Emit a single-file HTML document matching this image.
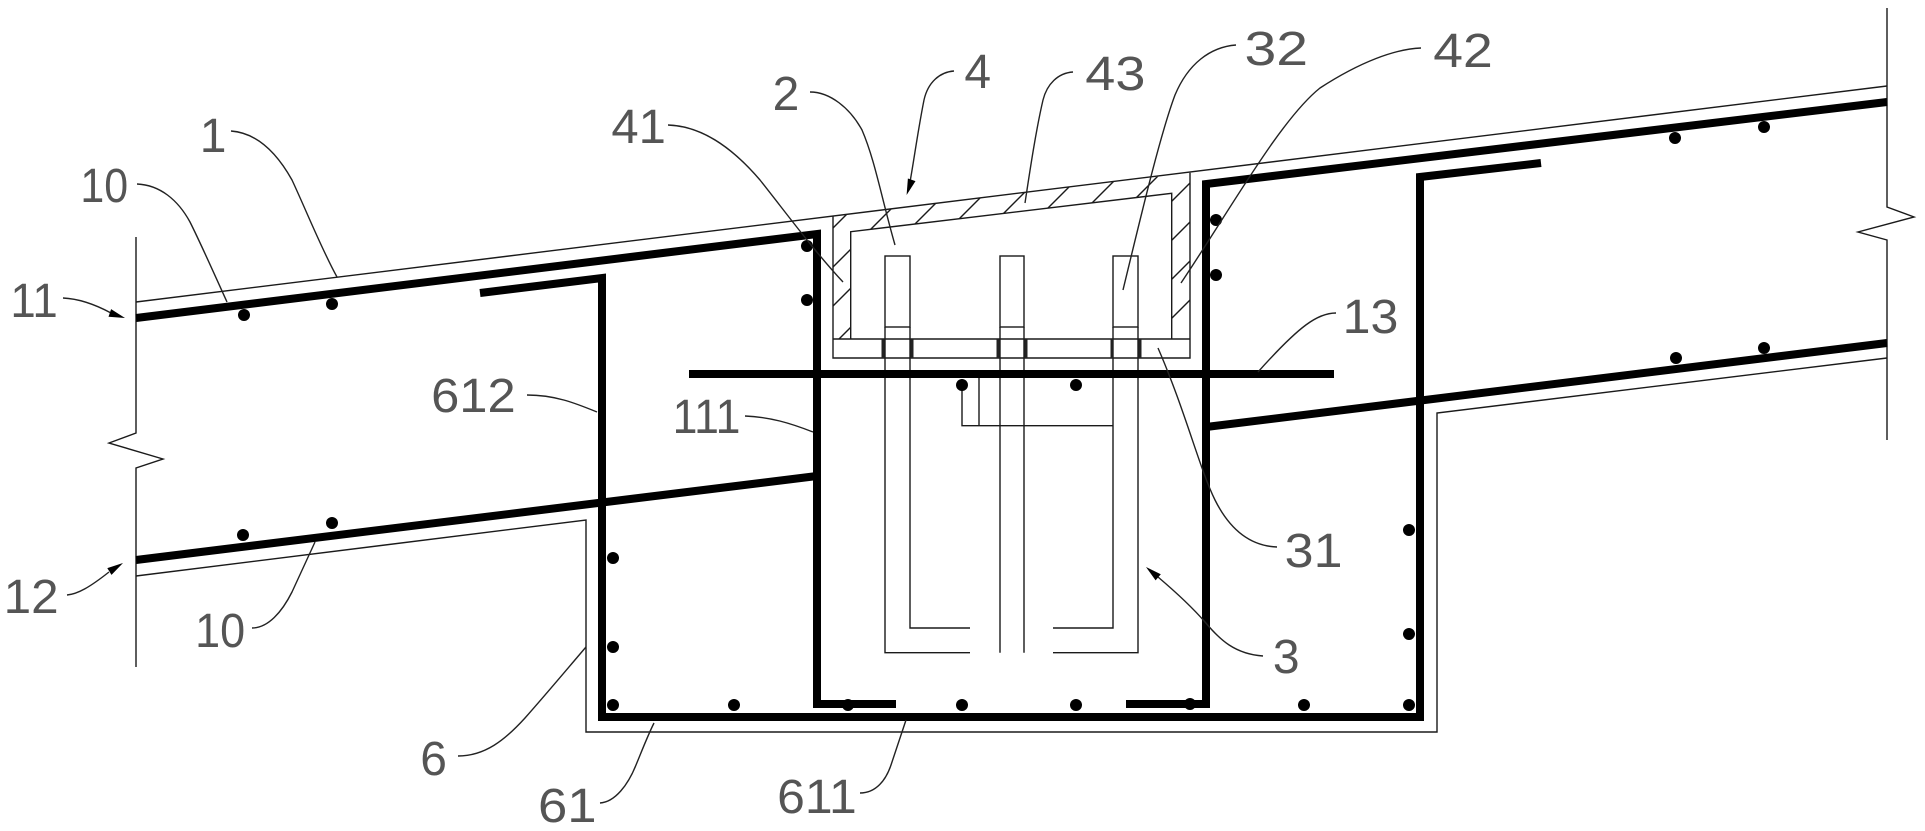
<!DOCTYPE html>
<html>
<head>
<meta charset="utf-8">
<style>
  html,body{margin:0;padding:0;background:#fff;}
  svg{display:block;}
  .t{font-family:"Liberation Sans",sans-serif;font-size:48px;fill:#555;}
  .thin{fill:none;stroke:#1a1a1a;stroke-width:1.4;}
  .lead{fill:none;stroke:#222;stroke-width:1.4;}
  .thick{fill:none;stroke:#000;stroke-width:8;stroke-linejoin:miter;stroke-linecap:butt;}
</style>
</head>
<body>
<svg width="1925" height="831" viewBox="0 0 1925 831" xmlns="http://www.w3.org/2000/svg">
  <defs>
    <pattern id="hatch" patternUnits="userSpaceOnUse" x="8" y="0" width="39" height="39">
      <line x1="0" y1="39" x2="39" y2="0" stroke="#1a1a1a" stroke-width="1.4"/>
      <line x1="-2" y1="2" x2="2" y2="-2" stroke="#1a1a1a" stroke-width="1.4"/>
      <line x1="37" y1="41" x2="41" y2="37" stroke="#1a1a1a" stroke-width="1.4"/>
    </pattern>
  </defs>

  <!-- break lines -->
  <polyline class="thin" points="136,237 136,433 109,443 163,459 136,468 136,667"/>
  <polyline class="thin" points="1887,8 1887,207 1914,217 1858,232 1887,240 1887,440"/>

  <!-- top surface line -->
  <line class="thin" x1="136" y1="302" x2="1887" y2="86"/>

  <!-- pit outline (6) -->
  <polyline class="thin" points="136,576 586,520 586,732 1437,732 1437,413 1887,358"/>

  <!-- hatched box 4 -->
  <path d="M833,216 L1190,172.7 L1190,339 L1172,339 L1172,193.3 L850.7,231.7 L850.7,339 L833,339 Z" fill="url(#hatch)" stroke="none"/>
  <polyline class="thin" points="833,216 833,358 1190,358 1190,172.7"/>
  <polyline class="thin" points="850.7,339 850.7,231.7 1171.7,193.3 1171.7,339"/>
  <line class="thin" x1="833" y1="339" x2="1190" y2="339"/>

  <!-- posts 32 -->
  <rect class="thin" x="885" y="256" width="25" height="71"/>
  <rect class="thin" x="1000" y="256" width="24" height="71"/>
  <rect class="thin" x="1113" y="256" width="25" height="71"/>

  <!-- rods 3 -->
  <polyline class="thin" points="885,327 885,652.7 970,652.7"/>
  <polyline class="thin" points="910,327 910,628 970,628"/>
  <line class="thin" x1="1000" y1="327" x2="1000" y2="652.7"/>
  <line class="thin" x1="1024" y1="327" x2="1024" y2="652.7"/>
  <polyline class="thin" points="1113,327 1113,628 1053,628"/>
  <polyline class="thin" points="1138,327 1138,652.7 1053,652.7"/>
  <!-- nut marks in plate -->
  <g fill="#222">
    <rect x="881.5" y="339" width="3" height="19"/>
    <rect x="910.5" y="339" width="3" height="19"/>
    <rect x="996.5" y="339" width="3" height="19"/>
    <rect x="1024.5" y="339" width="3" height="19"/>
    <rect x="1110.5" y="339" width="3" height="19"/>
    <rect x="1138.5" y="339" width="3" height="19"/>
  </g>
  <!-- bracket -->
  <polyline class="thin" points="962,385 962,425.7 1113,425.7"/>
  <line class="thin" x1="979" y1="377" x2="979" y2="425.7"/>

  <!-- thick rebars -->
  <polyline class="thick" stroke-width="7" points="136,318 817,234 817,704 896,704"/>
  <polyline class="thick" stroke-width="7" points="1887,102 1206,184 1206,704 1126,704"/>
  <line class="thick" stroke-width="7" x1="136" y1="560" x2="817" y2="476"/>
  <line class="thick" stroke-width="7" x1="1206" y1="427" x2="1887" y2="343"/>
  <line class="thick" stroke-width="7" x1="689" y1="374" x2="1334" y2="374"/>
  <polyline class="thick" points="480,293 602,278 602,717 1420,717 1420,177 1541,163"/>

  <!-- rebar dots -->
  <g fill="#000">
    <circle cx="244" cy="315" r="6"/>
    <circle cx="332" cy="304" r="6"/>
    <circle cx="807" cy="246" r="6"/>
    <circle cx="807" cy="300" r="6"/>
    <circle cx="1216" cy="220" r="6"/>
    <circle cx="1216" cy="275" r="6"/>
    <circle cx="1675" cy="138" r="6"/>
    <circle cx="1764" cy="127" r="6"/>
    <circle cx="1676" cy="358" r="6"/>
    <circle cx="1764" cy="348" r="6"/>
    <circle cx="243" cy="535" r="6"/>
    <circle cx="332" cy="523" r="6"/>
    <circle cx="613" cy="558" r="6"/>
    <circle cx="613" cy="647" r="6"/>
    <circle cx="613" cy="705" r="6"/>
    <circle cx="734" cy="705" r="6"/>
    <circle cx="848" cy="705" r="6"/>
    <circle cx="962" cy="705" r="6"/>
    <circle cx="1076" cy="705" r="6"/>
    <circle cx="1190" cy="704" r="6"/>
    <circle cx="1304" cy="705" r="6"/>
    <circle cx="1409" cy="705" r="6"/>
    <circle cx="1409" cy="530" r="6"/>
    <circle cx="1409" cy="634" r="6"/>
    <circle cx="962" cy="385" r="6"/>
    <circle cx="1076" cy="385" r="6"/>
  </g>

  <!-- leaders -->
  <path class="lead" d="M231,131 C258,133 278,155 292,180 C306,210 322,250 337,277"/>
  <path class="lead" d="M137,184 C160,185 178,200 190,222 C202,246 216,278 227,302"/>
  <path class="lead" d="M63,298 Q85,299 111,313"/>
  <polygon fill="#000" points="125,318 108.5,316.7 111.1,309.1"/>
  <path class="lead" d="M668,125 C700,126 730,145 760,180 C790,218 815,252 843,282"/>
  <path class="lead" d="M810,92 C830,92 850,108 862,130 C875,160 882,200 895,245"/>
  <path class="lead" d="M954,71 C940,72 928,82 924,100 C918,130 914,160 910,182"/>
  <polygon fill="#000" points="906.6,195 915.5,181.1 907.9,178.5"/>
  <path class="lead" d="M1073,72 C1058,73 1047,84 1043,100 C1036,130 1030,170 1025,203"/>
  <path class="lead" d="M1236,45 C1210,47 1188,64 1175,95 C1160,135 1140,220 1123,290"/>
  <path class="lead" d="M1421,48 C1395,49 1360,62 1320,88 C1280,120 1230,210 1181,283"/>
  <path class="lead" d="M1336,313 C1318,313 1300,325 1258,372"/>
  <path class="lead" d="M527,395 C555,395 575,403 597,412"/>
  <path class="lead" d="M745,416 C770,417 790,423 813,432"/>
  <path class="lead" d="M67,595 C78,594 90,587 109,572"/>
  <polygon fill="#000" points="123,563 111.5,574.9 107.3,568.1"/>
  <path class="lead" d="M252,628 C268,628 282,612 292,592 C302,570 310,553 315,542"/>
  <path class="lead" d="M458,756 C485,756 505,740 525,718 C548,692 568,668 586,647"/>
  <path class="lead" d="M600,803 C615,802 628,785 636,765 C643,748 648,735 654,723"/>
  <path class="lead" d="M860,793 C876,793 886,780 891,765 C896,750 901,735 906,720"/>
  <path class="lead" d="M1277,547 C1250,546 1230,530 1215,500 C1200,470 1185,410 1158,348"/>
  <path class="lead" d="M1263,656 C1235,654 1220,640 1205,622 C1192,607 1178,594 1158,577"/>
  <polygon fill="#000" points="1146,567 1160.8,574.3 1155.6,580.4"/>

  <!-- labels -->
  <text class="t" x="199.8" y="152">1</text>
  <text class="t" x="80.4" y="202" textLength="47.7" lengthAdjust="spacingAndGlyphs">10</text>
  <text class="t" x="10.4" y="317" textLength="47.4" lengthAdjust="spacingAndGlyphs">11</text>
  <text class="t" x="611.4" y="143" textLength="54.5" lengthAdjust="spacingAndGlyphs">41</text>
  <text class="t" x="772.6" y="110">2</text>
  <text class="t" x="964.4" y="88">4</text>
  <text class="t" x="1085.3" y="90" textLength="60.1" lengthAdjust="spacingAndGlyphs">43</text>
  <text class="t" x="1244.5" y="65" textLength="63.6" lengthAdjust="spacingAndGlyphs">32</text>
  <text class="t" x="1433.3" y="67" textLength="59.5" lengthAdjust="spacingAndGlyphs">42</text>
  <text class="t" x="1342.6" y="333" textLength="55.7" lengthAdjust="spacingAndGlyphs">13</text>
  <text class="t" x="431.1" y="412" textLength="84.6" lengthAdjust="spacingAndGlyphs">612</text>
  <text class="t" x="672.6" y="433" textLength="67.8" lengthAdjust="spacingAndGlyphs">111</text>
  <text class="t" x="3.6" y="613" textLength="55" lengthAdjust="spacingAndGlyphs">12</text>
  <text class="t" x="195.1" y="647" textLength="50" lengthAdjust="spacingAndGlyphs">10</text>
  <text class="t" x="420.2" y="775">6</text>
  <text class="t" x="538" y="822" textLength="58.6" lengthAdjust="spacingAndGlyphs">61</text>
  <text class="t" x="777.2" y="813" textLength="79.5" lengthAdjust="spacingAndGlyphs">611</text>
  <text class="t" x="1284.7" y="567" textLength="57.8" lengthAdjust="spacingAndGlyphs">31</text>
  <text class="t" x="1272.9" y="673">3</text>
</svg>
</body>
</html>
